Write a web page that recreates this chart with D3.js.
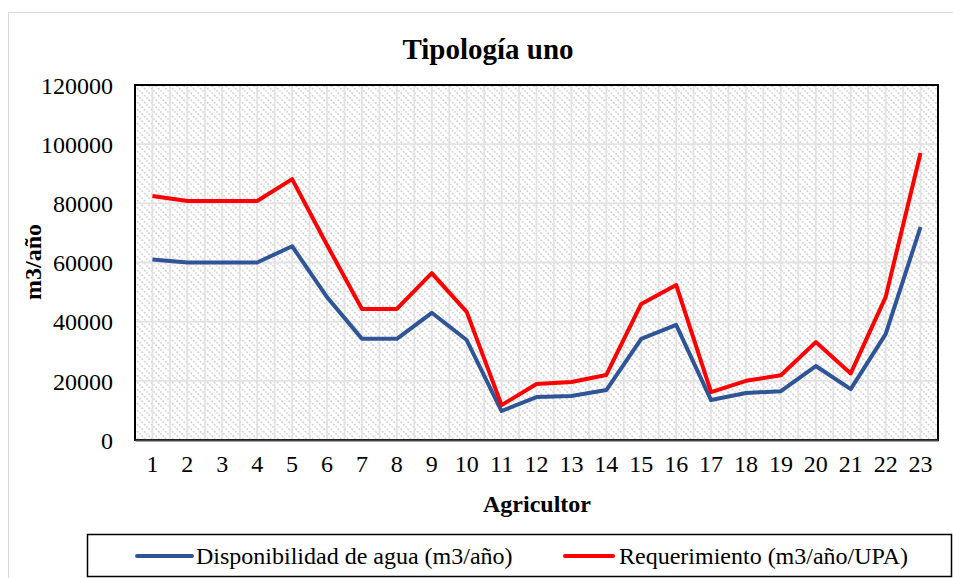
<!DOCTYPE html>
<html>
<head>
<meta charset="utf-8">
<script src="https://cdn.jsdelivr.net/npm/d3@7"></script>
<style>
  body { margin: 0; background: #fff; }
  svg text { font-family: "Liberation Serif", "Times New Roman", serif; fill: #000; }
</style>
</head>
<body>
<div id="main"></div>
<script>
var agricultores = d3.range(1, 24).map(String);

var disponibilidad = [61000, 60000, 60000, 60000, 65500, 48300, 34200, 34200, 43000, 33800,
  9800, 14500, 14900, 16900, 34200, 38900, 13500, 15900, 16500, 25000,
  17200, 35800, 72000];

var requerimiento = [82500, 80800, 80800, 80800, 88200, 65900, 44300, 44300, 56400, 43300,
  11800, 18900, 19600, 22000, 46000, 52400, 16200, 20000, 21900, 33100,
  22500, 48300, 97000];

var yTicks = [0, 20000, 40000, 60000, 80000, 100000, 120000];

var series = [
  { name: 'Disponibilidad de agua (m3/año)', values: disponibilidad, color: '#2f5597' },
  { name: 'Requerimiento (m3/año/UPA)', values: requerimiento, color: '#ff0000' }
];

var width = 953, height = 578;
var plot = { left: 135, top: 85, right: 938, bottom: 440 };
var serif = '"Liberation Serif", "Times New Roman", serif';

var svg = d3.select('#main').append('svg')
  .attr('width', width).attr('height', height);

// hatch pattern for the plot background
var defs = svg.append('defs');
var pat = defs.append('pattern')
  .attr('id', 'hatch')
  .attr('patternUnits', 'userSpaceOnUse')
  .attr('width', 7).attr('height', 7);
pat.append('path')
  .attr('d', 'M-1,-1 L8,8 M-1,6 L1,8 M6,-1 L8,1')
  .attr('stroke', '#d4d4d4')
  .attr('stroke-width', 1.6)
  .attr('stroke-dasharray', '2.2,1.3');

// outer chart border
svg.append('rect')
  .attr('x', 8.5).attr('y', 12.5)
  .attr('width', width).attr('height', height)
  .attr('fill', 'none').attr('stroke', '#d9d9d9').attr('stroke-width', 1);

var x = d3.scaleBand()
  .domain(agricultores)
  .range([plot.left, plot.right]);

var y = d3.scaleLinear()
  .domain([0, 120000])
  .range([plot.bottom, plot.top]);

svg.append('rect')
  .attr('x', plot.left).attr('y', plot.top)
  .attr('width', plot.right - plot.left).attr('height', plot.bottom - plot.top)
  .attr('fill', 'url(#hatch)');

// vertical grid: category centers and boundaries
var vgrid = [];
agricultores.forEach(function (d) {
  vgrid.push(x(d) + x.bandwidth() / 2);
  if (d !== agricultores[0]) vgrid.push(x(d));
});
svg.append('g').selectAll('line')
  .data(vgrid)
  .enter()
  .append('line')
  .attr('x1', function (d) { return d; })
  .attr('x2', function (d) { return d; })
  .attr('y1', plot.top).attr('y2', plot.bottom)
  .attr('stroke', '#e3e3e3').attr('stroke-width', 1.8);

svg.append('g').selectAll('line')
  .data(yTicks.slice(1, -1))
  .enter()
  .append('line')
  .attr('x1', plot.left).attr('x2', plot.right)
  .attr('y1', function (d) { return y(d); })
  .attr('y2', function (d) { return y(d); })
  .attr('stroke', '#e3e3e3').attr('stroke-width', 1.8);

// plot frame
svg.append('rect')
  .attr('x', plot.left).attr('y', plot.top)
  .attr('width', plot.right - plot.left).attr('height', plot.bottom - plot.top)
  .attr('fill', 'none').attr('stroke', '#000').attr('stroke-width', 2);

// axes
var yAxis = svg.append('g')
  .attr('transform', 'translate(' + plot.left + ',0)')
  .call(d3.axisLeft(y).tickValues(yTicks).tickSize(0).tickPadding(22).tickFormat(d3.format('d')));
yAxis.attr('font-family', serif);
yAxis.select('.domain').remove();
yAxis.selectAll('text')
  .style('font-size', '24px')
  .attr('dy', '0.34em');

var xAxis = svg.append('g')
  .attr('transform', 'translate(0,' + plot.bottom + ')')
  .call(d3.axisBottom(x).tickSize(0).tickPadding(15));
xAxis.attr('font-family', serif);
xAxis.select('.domain').attr('stroke', '#444').attr('stroke-width', 2);
xAxis.selectAll('text')
  .style('font-size', '24px');

// series lines
var line = d3.line()
  .x(function (d, i) { return x(agricultores[i]) + x.bandwidth() / 2; })
  .y(function (d) { return y(d); });

svg.selectAll('.serie')
  .data(series)
  .enter()
  .append('path')
  .attr('class', 'serie')
  .attr('d', function (d) { return line(d.values); })
  .attr('fill', 'none')
  .attr('stroke', function (d) { return d.color; })
  .attr('stroke-width', 4)
  .attr('stroke-linejoin', 'round');

// titles
svg.append('text')
  .attr('x', 488).attr('y', 59)
  .attr('text-anchor', 'middle')
  .style('font-size', '29px').style('font-weight', 'bold')
  .text('Tipología uno');

svg.append('text')
  .attr('x', 537).attr('y', 512)
  .attr('text-anchor', 'middle')
  .style('font-size', '24px').style('font-weight', 'bold')
  .text('Agricultor');

svg.append('text')
  .attr('transform', 'translate(41,' + 262 + ') rotate(-90)')
  .attr('text-anchor', 'middle')
  .style('font-size', '24px').style('font-weight', 'bold')
  .text('m3/año');

// legend
svg.append('rect')
  .attr('x', 87.5).attr('y', 534.5)
  .attr('width', 864).attr('height', 42)
  .attr('fill', '#fff').attr('stroke', '#000').attr('stroke-width', 1.5);

var legendX = [137, 565];
var lg = svg.selectAll('.leg')
  .data(series)
  .enter()
  .append('g')
  .attr('class', 'leg')
  .attr('transform', function (d, i) { return 'translate(' + legendX[i] + ',556)'; });
lg.append('line')
  .attr('x1', 0).attr('x2', function (d, i) { return i === 0 ? 55 : 48; })
  .attr('y1', 0).attr('y2', 0)
  .attr('stroke', function (d) { return d.color; })
  .attr('stroke-width', 4)
  .attr('stroke-linecap', 'round');
lg.append('text')
  .attr('x', function (d, i) { return i === 0 ? 59 : 54; })
  .attr('y', 8)
  .style('font-size', '24px')
  .text(function (d) { return d.name; });
</script>
</body>
</html>
